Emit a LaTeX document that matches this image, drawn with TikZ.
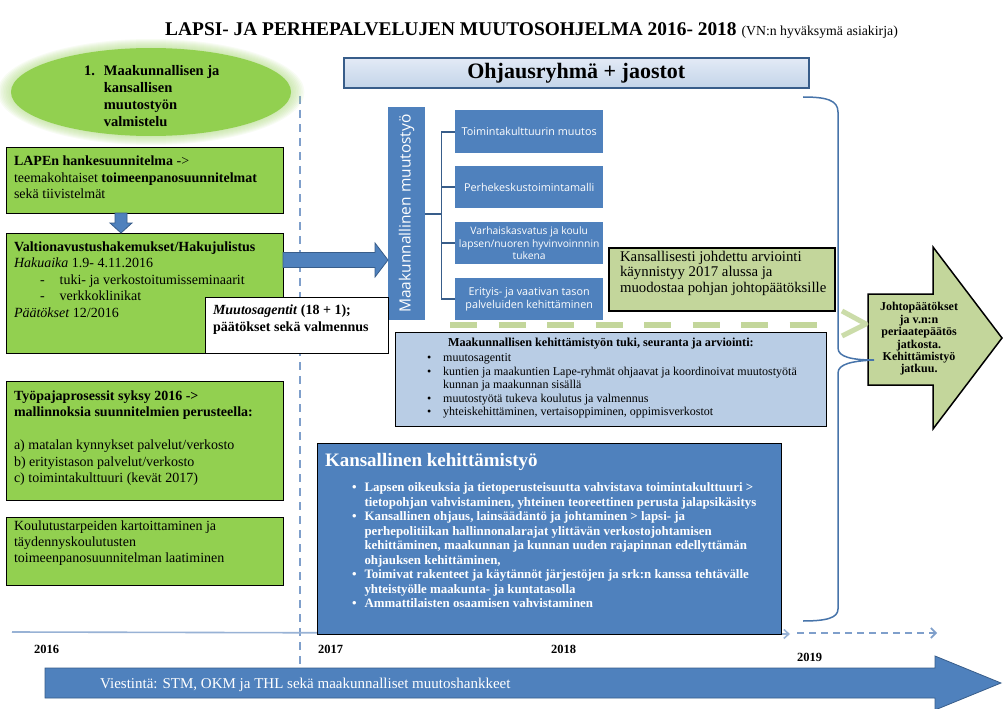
\documentclass[tikz,border=0pt]{standalone}
\usepackage{fontspec}
\setmainfont{Liberation Serif}
\newfontfamily\segoe{Open Sans}
\usetikzlibrary{shapes.geometric,arrows.meta,calc}
\definecolor{lgreen}{HTML}{92D050}
\definecolor{bblue}{HTML}{4F81BD}
\definecolor{dblue}{HTML}{385D8A}
\definecolor{lblue}{HTML}{B9CDE5}
\definecolor{olivebox}{HTML}{C3D69B}
\definecolor{pblue}{HTML}{E3EAF6}
\definecolor{tline}{HTML}{7F9FCB}
\newcommand{\fs}[2]{\fontsize{#1}{#2}\selectfont}
\tikzset{
  box/.style={draw=black, line width=1pt, anchor=north west, inner sep=0pt, outer sep=0pt},
  gbox/.style={box, fill=lgreen},
  txt/.style={anchor=north west, inner sep=0pt, outer sep=0pt, align=left},
  subbox/.style={fill=bblue, anchor=north west, minimum width=148, minimum height=42, inner sep=1pt,
     text=white, align=center, font=\segoe\fs{10.8}{13.2}},
  barrow/.style={fill=bblue, draw=dblue, line width=0.8pt, line join=miter},
  brk/.style={draw=dblue, line width=1.6pt},
  year/.style={anchor=base west, inner sep=0pt, font=\bfseries\fs{12.5}{14}},
}
\begin{document}
\begin{tikzpicture}[x=1pt,y=-1pt]
\useasboundingbox (0,0) rectangle (1005,709);
\fill[white] (0,0) rectangle (1005,709);

% title
\node[anchor=base west, inner sep=0pt] (title) at (165,36)
  {\bfseries\fs{19.4}{21}LAPSI- JA PERHEPALVELUJEN MUUTOSOHJELMA 2016- 2018 {\mdseries\fs{13.8}{15}(VN:n hyväksymä asiakirja)}};

% dashed vertical line (2017)
\coordinate (vtop) at (300,96);
\coordinate (vbot) at (300,668);
\draw[tline, line width=1.6pt, dash pattern=on 8pt off 6pt] (vtop) -- (vbot);

% timeline
\coordinate (t0) at (12,632);
\coordinate (t1) at (790,634);
\draw[tline!80, line width=1.6pt, -{Straight Barb[length=5pt,width=9pt]}] (t0) -- (t1);
\coordinate (d0) at (797,633);
\coordinate (d1) at (937,633);
\draw[tline, line width=1.6pt, dash pattern=on 7pt off 5pt, -{Straight Barb[length=5pt,width=10pt]}] (d0) -- (d1);

% ellipse with glow
\foreach \k in {1,...,9}
  \fill[lgreen!70!white, opacity=0.09] (151,92) ellipse [x radius={139+1.6*\k}, y radius={44+1*\k}];
\node[ellipse, fill=lgreen, minimum width=280, minimum height=88, inner sep=0pt] (prep) at (151,92) {};
\node[txt, font=\bfseries\fs{14.5}{16.8}] (prept) at (84,64)
  {\begin{tabular}{@{}l@{\hspace{9pt}}l@{}}1. & Maakunnallisen ja\\ & kansallisen\\ & muutostyön\\ & valmistelu\end{tabular}};

% left green boxes
\node[gbox, minimum width=277, minimum height=66] (lapen) at (6,147) {};
\node[txt, font=\fs{14}{16.5}] (lapent) at (14,156)
  {\textbf{LAPEn hankesuunnitelma} ->\\ teemakohtaiset \textbf{toimeenpanosuunnitelmat}\\ sekä tiivistelmät};

\node[gbox, minimum width=277, minimum height=120] (valt) at (6,233) {};
\node[txt, font=\fs{14}{16.5}] (valtt) at (14,241.5)
  {\textbf{Valtionavustushakemukset/Hakujulistus}\\
   \textit{Hakuaika} 1.9- 4.11.2016\\
   \hspace{26pt}-\hspace{15pt}tuki- ja verkostoitumisseminaarit\\
   \hspace{26pt}-\hspace{15pt}verkkoklinikat\\
   \textit{Päätökset} 12/2016};

\node[gbox, minimum width=277, minimum height=119] (tyo) at (6,381) {};
\node[txt, font=\fs{14}{16.3}] (tyot) at (14,390.5)
  {\textbf{Työpajaprosessit syksy 2016 ->}\\
   \textbf{mallinnoksia suunnitelmien perusteella:}\\[17pt]
   a) matalan kynnykset palvelut/verkosto\\
   b) erityistason palvelut/verkosto\\
   c) toimintakulttuuri (kevät 2017)};

\node[gbox, minimum width=277, minimum height=68] (koul) at (6,517) {};
\node[txt, font=\fs{14}{16}] (koult) at (14,520.5)
  {Koulutustarpeiden kartoittaminen ja\\ täydennyskoulutusten\\ toimeenpanosuunnitelman laatiminen};

% down arrow lapen -> valt
\coordinate (dx) at (121,0);
\coordinate (da) at (lapen.south -| dx);
\coordinate (db) at (valt.north -| dx);
\draw[barrow] ($(da)+(-6,0)$) -- ($(db)+(-6,-10)$) -- ($(db)+(-11,-10)$) -- (db)
  -- ($(db)+(11,-10)$) -- ($(db)+(6,-10)$) -- ($(da)+(6,0)$) -- cycle;

% Ohjausryhmä
\node[draw=dblue, line width=1.6pt, top color=pblue, bottom color=lblue!85!white, anchor=north west,
      minimum width=465, minimum height=30, inner sep=0pt] (ohj) at (343,57)
  {\bfseries\fs{22}{24}Ohjausryhmä + jaostot};

% vertical blue box
\node[fill=bblue, anchor=north west, minimum width=37, minimum height=213, inner sep=0pt] (maak) at (388,107) {};
\node[rotate=90, text=white, font=\segoe\fs{15.5}{18}, inner sep=0pt] (maakt) at (maak.center) {Maakunnallinen muutostyö};

% right arrow valt -> maak
\coordinate (ry) at (0,260);
\coordinate (ra) at (valt.east |- ry);
\coordinate (rb) at (maak.west |- ry);
\draw[barrow] ($(ra)+(0,-7.5)$) -- ($(rb)+(-13,-7.5)$) -- ($(rb)+(-13,-17)$) -- (rb)
  -- ($(rb)+(-13,17)$) -- ($(rb)+(-13,7.5)$) -- ($(ra)+(0,7.5)$) -- cycle;

% Muutosagentit box
\node[box, fill=white, minimum width=183, minimum height=56] (agent) at (205,297) {};
\node[txt, font=\bfseries\fs{14}{17}] (agentt) at (213,305)
  {\textit{Muutosagentit} (18 + 1);\\ päätökset sekä valmennus};

% sub boxes
\node[subbox, minimum height=43] (sub1) at (455,110) {Toimintakulttuurin muutos};
\node[subbox] (sub2) at (455,166) {Perhekeskustoimintamalli};
\node[subbox, inner sep=0pt, font=\segoe\fs{10.3}{12.8}] (sub3) at (455,222) {Varhaiskasvatus ja koulu\\lapsen/nuoren hyvinvoinnnin\\tukena};
\node[subbox] (sub4) at (455,278) {Erityis- ja vaativan tason\\palveluiden kehittäminen};

% bracket
\draw[brk] (maak.east) -- ++(16,0) coordinate (bj);
\draw[brk] (bj |- sub1.west) -- (bj |- sub4.west);
\foreach \s in {sub1,sub2,sub3,sub4}
  \draw[brk] (bj |- \s.west) -- (\s.west);

% Kansallisesti box
\node[box, fill=olivebox, line width=2pt, minimum width=226, minimum height=63] (arv) at (609,248) {};
\node[txt, font=\fs{14.8}{15.2}] (arvt) at (620,251.5)
  {Kansallisesti johdettu arviointi\\ käynnistyy 2017 alussa ja\\ muodostaa pohjan johtopäätöksille};

% big arrow (Johtopäätökset)
\draw[fill=olivebox, draw=black, line width=1.5pt, line join=miter]
  (868,294) -- (933,294) -- (933,247) -- (1002,338) -- (933,429) -- (933,385) -- (868,385) -- cycle;
\node[align=center, inner sep=0pt, font=\bfseries\fs{12}{12.4}] (johto) at (919,339)
  {Johtopäätökset\\ ja v.n:n\\ periaatepäätös\\ jatkosta.\\ Kehittämistyö\\ jatkuu.};
\coordinate (jw) at (866,324);

% green dashed connector
\coordinate (g0) at (450,325);
\draw[olivebox, line width=6pt, dash pattern=on 27pt off 21.5pt] (g0) -- (838,325);
\draw[olivebox, line width=5pt, opacity=0.85, line join=round] (842,311) -- (jw) -- (842,336);

% Maakunnallisen box
\node[box, fill=lblue, minimum width=431, minimum height=94] (tuki) at (395,332) {};
\node[txt, font=\bfseries\fs{12.2}{13}] (tukih) at (448,338.5)
  {Maakunnallisen kehittämistyön tuki, seuranta ja arviointi:};
\node[txt, font=\fs{12}{13.6}] (tukit) at (427,352)
  {\begin{tabular}{@{}l@{\hspace{12pt}}l@{}}
   \textbullet & muutosagentit\\
   \textbullet & kuntien ja maakuntien Lape-ryhmät ohjaavat ja koordinoivat muutostyötä\\
               & kunnan ja maakunnan sisällä\\
   \textbullet & muutostyötä tukeva koulutus ja valmennus\\
   \textbullet & yhteiskehittäminen,  vertaisoppiminen, oppimisverkostot
   \end{tabular}};

% right brace
\draw[bblue!90!black, line width=1.5pt]
  (803,97) .. controls (826,97) and (838,100) .. (838,112) -- (838,348)
  .. controls (838,357) and (852,360) .. (874,360)
  .. controls (852,361) and (838,364) .. (838,373) -- (838,609)
  .. controls (838,618) and (826,621) .. (803,621);

% Kansallinen kehittämistyö
\node[box, fill=bblue, minimum width=464, minimum height=191] (kans) at (317,443) {};
\node[txt, text=white, font=\bfseries\fs{19}{21}] (kansh) at (325,453) {Kansallinen kehittämistyö};
\node[txt, text=white, font=\bfseries\fs{12.9}{14.5}] (kanst) at (352,481.5)
  {\begin{tabular}{@{}l@{\hspace{8pt}}l@{}}
   \textbullet & Lapsen oikeuksia ja tietoperusteisuutta vahvistava toimintakulttuuri >\\
               & tietopohjan vahvistaminen, yhteinen teoreettinen perusta jalapsikäsitys\\
   \textbullet & Kansallinen ohjaus, lainsäädäntö ja johtaminen > lapsi- ja\\
               & perhepolitiikan hallinnonalarajat ylittävän verkostojohtamisen\\
               & kehittäminen, maakunnan ja kunnan uuden rajapinnan edellyttämän\\
               & ohjauksen kehittäminen,\\
   \textbullet & Toimivat rakenteet ja käytännöt järjestöjen ja srk:n kanssa tehtävälle\\
               & yhteistyölle maakunta- ja kuntatasolla\\
   \textbullet & Ammattilaisten osaamisen vahvistaminen
   \end{tabular}};

% years
\node[year] (y16) at (34,653) {2016};
\node[year] (y17) at (318,653) {2017};
\node[year] (y18) at (551,653) {2018};
\node[year] (y19) at (797,661) {2019};

% bottom arrow
\draw[barrow] (45,668) -- (935,668) -- (935,656) -- (1001,683) -- (935,710) -- (935,698) -- (45,698) -- cycle;
\node[anchor=base west, inner sep=0pt, text=white, font=\fs{15}{16}] (viest) at (100,688)
  {Viestintä: STM, OKM ja THL sekä maakunnalliset muutoshankkeet};
\end{tikzpicture}
\end{document}
